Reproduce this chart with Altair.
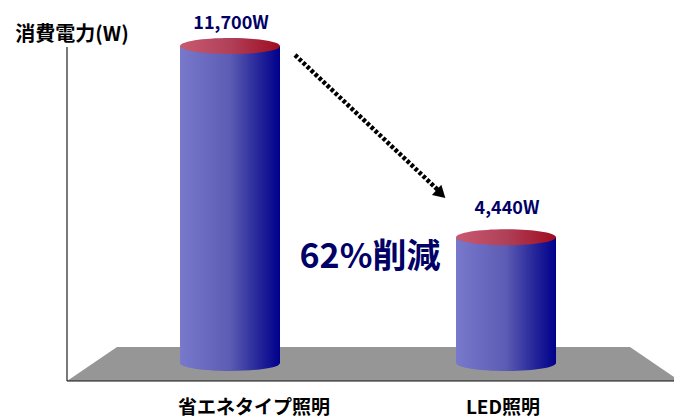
import altair as alt
import pandas as pd

FONT = "Noto Sans CJK JP"
NAVY = "#000066"

categories = ["省エネタイプ照明", "LED照明"]
watts = [11700, 4440]
value_labels = ["11,700W", "4,440W"]
bar_left = [180, 456]
bar_right = [280, 556]
bar_center = [230, 506]
bar_base = [-342, -342]
value_label_x = [231, 507]
value_label_y = [12550, 5500]
category_x = [254, 503]
category_y = [-2040, -2040]

floor_x = [67, 117, 630, 680]
floor_top = [-1026, 266, 266, -1026]
floor_bottom = [-1026, -1026, -1026, -1026]

axis_x = [67]
axis_top = [11660]
axis_bottom = [-1026]
base_left = [67]
base_right = [682]
base_y = [-1026]

arrow_x = [295, 438]
arrow_y = [11360, 6230]
head_x = [441]
head_y = [6080]

note_x = [370]
note_y = [3660]
note_text = ["62%削減"]
title_x = [72]
title_y = [12124]
title_text = ["消費電力(W)"]

x_scale = alt.Scale(domain=[8, 674], range=[0, 666], nice=False, zero=False)
y_scale = alt.Scale(domain=[-2432, 13146], range=[410, 0], nice=False, zero=False)
X = lambda f: alt.X(f, type="quantitative", scale=x_scale, axis=None)
Y = lambda f: alt.Y(f, type="quantitative", scale=y_scale, axis=None)

body_fill = alt.Gradient(
    gradient="linear", x1=0, y1=0, x2=1, y2=0,
    stops=[alt.GradientStop(offset=0, color="#7878cc"),
           alt.GradientStop(offset=0.5, color="#5c5cb4"),
           alt.GradientStop(offset=0.75, color="#2c2c9c"),
           alt.GradientStop(offset=1, color="#00008c")],
)
top_fill = alt.Gradient(
    gradient="linear", x1=0, y1=0, x2=1, y2=0,
    stops=[alt.GradientStop(offset=0, color="#c85a70"),
           alt.GradientStop(offset=0.5, color="#b04058"),
           alt.GradientStop(offset=1, color="#a00c20")],
)
ELLIPSE = "M-1,0A1,0.16 0 1,1 1,0A1,0.16 0 1,1 -1,0Z"

bars = pd.DataFrame({"cat": categories, "w": watts, "l": bar_left, "r": bar_right,
                     "c": bar_center, "b": bar_base})

floor = alt.Chart(pd.DataFrame({"x": floor_x, "y": floor_top, "y2": floor_bottom})).mark_area(
    color="#969696", clip=True).encode(x=X("x"), y=Y("y"), y2="y2")
left_axis = alt.Chart(pd.DataFrame({"x": axis_x, "y": axis_top, "y2": axis_bottom})).mark_rule(
    color="#222222", strokeWidth=1.2).encode(x=X("x"), y=Y("y"), y2="y2")
base_axis = alt.Chart(pd.DataFrame({"x": base_left, "x2": base_right, "y": base_y})).mark_rule(
    color="#111111", strokeWidth=1.2, clip=True).encode(x=X("x"), x2="x2", y=Y("y"))

bottoms = alt.Chart(bars).mark_point(shape=ELLIPSE, size=10000, filled=True, fill=body_fill,
                                     opacity=1, strokeWidth=0).encode(x=X("c"), y=Y("b"))
bodies = alt.Chart(bars).mark_bar(fill=body_fill, opacity=1).encode(x=X("l"), x2="r", y=Y("w"), y2="b")
tops = alt.Chart(bars).mark_point(shape=ELLIPSE, size=10000, filled=True, fill=top_fill,
                                  opacity=1, strokeWidth=0).encode(x=X("c"), y=Y("w"))

arrow = alt.Chart(pd.DataFrame({"x": arrow_x, "y": arrow_y})).mark_line(
    color="black", strokeWidth=4.5, strokeDash=[3.5, 2]).encode(x=X("x"), y=Y("y"))
head = alt.Chart(pd.DataFrame({"x": head_x, "y": head_y})).mark_point(
    shape="triangle-up", size=190, filled=True, color="black", opacity=1, angle=133, strokeWidth=0
).encode(x=X("x"), y=Y("y"))

value_text = alt.Chart(pd.DataFrame({"x": value_label_x, "y": value_label_y, "t": value_labels})).mark_text(
    font=FONT, fontSize=18, fontWeight="bold", color=NAVY).encode(x=X("x"), y=Y("y"), text="t:N")
cat_text = alt.Chart(pd.DataFrame({"x": category_x, "y": category_y, "t": categories})).mark_text(
    font=FONT, fontSize=19, fontWeight="bold", color="black").encode(x=X("x"), y=Y("y"), text="t:N")
note = alt.Chart(pd.DataFrame({"x": note_x, "y": note_y, "t": note_text})).mark_text(
    font=FONT, fontSize=34, fontWeight="bold", color=NAVY).encode(x=X("x"), y=Y("y"), text="t:N")
title = alt.Chart(pd.DataFrame({"x": title_x, "y": title_y, "t": title_text})).mark_text(
    font=FONT, fontSize=20, fontWeight="bold", color="black").encode(x=X("x"), y=Y("y"), text="t:N")

chart = alt.layer(floor, left_axis, base_axis, bottoms, bodies, tops, arrow, head,
                  value_text, cat_text, note, title).properties(
    width=666, height=410, padding=0, autosize=alt.AutoSizeParams(type="none")
).configure_view(stroke=None)

chart.save("out.html", embed_options={"renderer": "svg", "actions": False})
